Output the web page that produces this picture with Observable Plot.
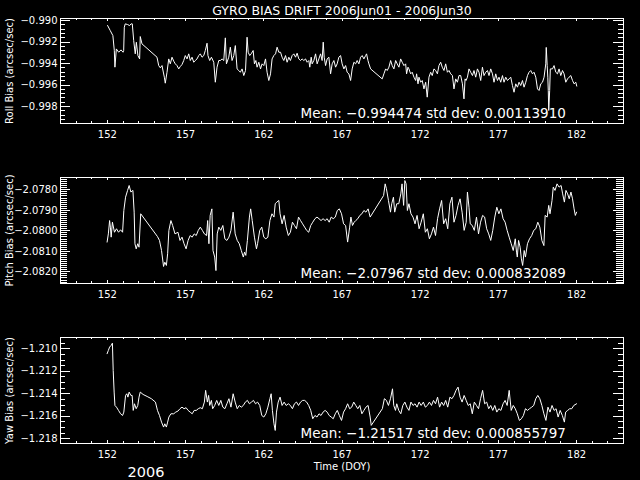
<!DOCTYPE html>
<html><head><meta charset="utf-8">
<script src="https://cdn.jsdelivr.net/npm/d3@7"></script>
<script src="https://cdn.jsdelivr.net/npm/@observablehq/plot@0.6"></script>
<style>
html,body{margin:0;padding:0;background:#000;}
#chart{position:relative;width:640px;height:480px;background:#000;overflow:hidden;}
#chart svg{position:absolute;left:0;}
</style></head><body><div id="chart"></div>
<script>
const titleText = "GYRO BIAS DRIFT 2006Jun01 - 2006Jun30";
const xLabelText = "Time (DOY)";
const yearText = "2006";
const xDomain = [149, 185];
const xTicks = [152, 157, 162, 167, 172, 177, 182];

const rollLabel = "Roll Bias (arcsec/sec)";
const pitchLabel = "Pitch Bias (arcsec/sec)";
const yawLabel = "Yaw Bias (arcsec/sec)";
const rollStats = "Mean: \u22120.994474 std dev: 0.00113910";
const pitchStats = "Mean: \u22122.07967 std dev: 0.000832089";
const yawStats = "Mean: \u22121.21517 std dev: 0.000855797";
const rollTicks = [-0.990, -0.992, -0.994, -0.996, -0.998];
const pitchTicks = [-2.0780, -2.0790, -2.0800, -2.0810, -2.0820];
const yawTicks = [-1.210, -1.212, -1.214, -1.216, -1.218];
const rollDomain = [-0.99958, -0.98981];
const pitchDomain = [-2.08257, -2.07740];
const yawDomain = [-1.21842, -1.20900];

const rollData = [[152.01,-0.99046],[152.18,-0.99093],[152.35,-0.99140],[152.44,-0.99279],[152.48,-0.99434],[152.57,-0.99264],[152.72,-0.99295],[152.87,-0.99273],[153.00,-0.99295],[153.04,-0.99279],[153.08,-0.99062],[153.14,-0.99031],[153.29,-0.99037],[153.42,-0.99047],[153.51,-0.99031],[153.59,-0.99031],[153.68,-0.99186],[153.78,-0.99310],[153.85,-0.99202],[153.95,-0.99326],[154.06,-0.99357],[154.10,-0.99149],[154.21,-0.99217],[155.17,-0.99341],[155.28,-0.99419],[155.38,-0.99440],[155.49,-0.99419],[155.64,-0.99527],[155.70,-0.99583],[155.81,-0.99481],[155.92,-0.99357],[156.02,-0.99403],[156.13,-0.99341],[156.24,-0.99378],[156.34,-0.99403],[156.45,-0.99419],[156.56,-0.99450],[156.66,-0.99428],[156.77,-0.99409],[156.88,-0.99372],[156.98,-0.99326],[157.09,-0.99357],[157.20,-0.99310],[157.30,-0.99372],[157.41,-0.99341],[157.52,-0.99388],[157.62,-0.99372],[157.73,-0.99357],[157.84,-0.99326],[157.94,-0.99310],[158.05,-0.99341],[158.16,-0.99326],[158.26,-0.99279],[158.37,-0.99211],[158.43,-0.99326],[158.54,-0.99372],[158.65,-0.99341],[158.80,-0.99388],[158.90,-0.99574],[159.01,-0.99434],[159.12,-0.99372],[159.22,-0.99372],[159.33,-0.99357],[159.44,-0.99372],[159.54,-0.99161],[159.61,-0.99403],[159.76,-0.99341],[159.86,-0.99248],[159.97,-0.99372],[160.08,-0.99326],[160.18,-0.99233],[160.29,-0.99450],[160.40,-0.99465],[160.50,-0.99481],[160.61,-0.99450],[160.72,-0.99512],[160.83,-0.99465],[160.93,-0.99155],[161.00,-0.99295],[161.10,-0.99326],[161.19,-0.99310],[161.32,-0.99279],[161.40,-0.99403],[161.49,-0.99372],[161.57,-0.99434],[161.68,-0.99388],[161.79,-0.99450],[161.89,-0.99403],[162.00,-0.99419],[162.11,-0.99357],[162.21,-0.99481],[162.32,-0.99558],[162.43,-0.99496],[162.53,-0.99357],[162.64,-0.99326],[162.75,-0.99310],[162.85,-0.99248],[162.96,-0.99295],
[163.07,-0.99295],[163.17,-0.99341],[163.28,-0.99372],[163.39,-0.99326],[163.49,-0.99388],[163.60,-0.99341],[163.70,-0.99372],[163.81,-0.99326],[163.92,-0.99310],[164.03,-0.99341],[164.13,-0.99304],[164.24,-0.99357],[164.35,-0.99372],[164.45,-0.99357],[164.56,-0.99372],[164.67,-0.99357],[164.77,-0.99388],[164.88,-0.99372],[164.94,-0.99434],[165.03,-0.99341],[165.09,-0.99403],[165.20,-0.99372],[165.31,-0.99310],[165.41,-0.99403],[165.52,-0.99357],[165.63,-0.99310],[165.73,-0.99372],[165.80,-0.99201],[165.86,-0.99341],[165.95,-0.99419],[166.05,-0.99357],[166.16,-0.99341],[166.27,-0.99496],[166.37,-0.99403],[166.48,-0.99372],[166.59,-0.99434],[166.69,-0.99403],[166.80,-0.99341],[166.91,-0.99326],[167.01,-0.99403],[167.12,-0.99450],[167.23,-0.99419],[167.33,-0.99481],[167.44,-0.99496],[167.55,-0.99558],[167.65,-0.99450],[167.76,-0.99388],[167.87,-0.99403],[167.97,-0.99372],[168.08,-0.99403],[168.19,-0.99341],[168.29,-0.99326],[168.40,-0.99357],[168.51,-0.99326],[168.57,-0.99310],[168.66,-0.99372],[168.72,-0.99403],[168.83,-0.99450],[169.57,-0.99543],[169.68,-0.99496],[169.79,-0.99450],[169.89,-0.99465],[170.00,-0.99434],[170.11,-0.99372],[170.21,-0.99419],[170.32,-0.99450],[170.43,-0.99372],[170.53,-0.99403],[170.64,-0.99434],[170.75,-0.99357],[170.85,-0.99388],[170.96,-0.99419],[171.07,-0.99403],[171.13,-0.99496],[171.22,-0.99434],[171.28,-0.99450],[171.39,-0.99496],[171.49,-0.99481],[171.60,-0.99527],[171.71,-0.99558],[171.77,-0.99496],[171.86,-0.99589],[171.92,-0.99527],[172.03,-0.99574],[172.13,-0.99558],[172.24,-0.99636],[172.35,-0.99574],[172.45,-0.99713],[172.56,-0.99527],[172.67,-0.99481],[172.77,-0.99512],[172.88,-0.99450],[172.99,-0.99465],[173.10,-0.99496],[173.20,-0.99419],[173.31,-0.99388],[173.41,-0.99434],[173.52,-0.99465],[173.63,-0.99403],[173.74,-0.99481],[173.84,-0.99465],[173.95,-0.99496],[174.06,-0.99512],[174.16,-0.99636],[174.27,-0.99543],[174.38,-0.99574],[174.48,-0.99512],[174.59,-0.99512],[174.70,-0.99589],[174.80,-0.99729],[174.87,-0.99543],[174.93,-0.99558],[175.02,-0.99527],[175.12,-0.99450],[175.23,-0.99481],[175.34,-0.99512],[175.44,-0.99465],[175.55,-0.99527],[175.66,-0.99450],[175.76,-0.99481],[175.87,-0.99558],[175.98,-0.99434],[176.08,-0.99512],[176.19,-0.99481],[176.30,-0.99465],[176.40,-0.99512],[176.51,-0.99450],[176.62,-0.99496],[176.72,-0.99574],[176.83,-0.99496],[176.94,-0.99558],[177.04,-0.99527],[177.15,-0.99574],[177.26,-0.99512],[177.36,-0.99574],[177.47,-0.99527],[177.58,-0.99558],[177.68,-0.99543],[177.79,-0.99527],[177.90,-0.99605],[178.00,-0.99667],[178.11,-0.99589],[178.22,-0.99620],[178.32,-0.99574],[178.43,-0.99605],[178.54,-0.99558],[178.64,-0.99620],[178.75,-0.99574],[178.86,-0.99512],[178.96,-0.99481],[179.07,-0.99465],[179.18,-0.99496],[179.28,-0.99481],[179.39,-0.99527],[179.50,-0.99636],[179.60,-0.99651],[179.71,-0.99589],[179.82,-0.99574],[179.92,-0.99527],[180.03,-0.99403],[180.06,-0.99250],[180.12,-0.99419],[180.16,-0.99527],[180.19,-0.99651],[180.22,-0.99837],[180.28,-0.99650],[180.32,-0.99450],[180.46,-0.99450],[180.56,-0.99419],[180.67,-0.99481],[180.78,-0.99496],[180.88,-0.99450],[180.99,-0.99512],[181.10,-0.99465],[181.20,-0.99496],[181.31,-0.99574],[181.42,-0.99543],[181.52,-0.99527],[181.63,-0.99512],[181.74,-0.99558],[181.84,-0.99589],[181.95,-0.99574],[182.01,-0.99610]];

const pitchData = [[151.98,-2.08055],[152.06,-2.08015],[152.14,-2.07950],[152.19,-2.07982],[152.24,-2.08031],[152.32,-2.07958],[152.45,-2.08007],[152.58,-2.07990],[152.71,-2.08007],[152.84,-2.07995],[152.97,-2.08007],[153.05,-2.07901],[153.16,-2.07836],[153.29,-2.07803],[153.39,-2.07779],[153.50,-2.07811],[153.63,-2.07803],[153.71,-2.07909],[153.76,-2.08063],[153.84,-2.08088],[153.94,-2.08063],[154.02,-2.08080],[154.13,-2.07917],[155.20,-2.08028],[155.33,-2.08047],[155.46,-2.08096],[155.59,-2.08174],[155.67,-2.08153],[155.77,-2.08169],[155.85,-2.08112],[155.93,-2.07998],[156.06,-2.07950],[156.17,-2.07974],[156.32,-2.08015],[156.51,-2.08007],[156.64,-2.08047],[156.77,-2.08031],[156.90,-2.08063],[157.03,-2.08088],[157.16,-2.08047],[157.29,-2.08023],[157.42,-2.08031],[157.55,-2.08015],[157.68,-2.08023],[157.81,-2.07998],[157.94,-2.07982],[158.07,-2.07998],[158.20,-2.08015],[158.34,-2.08023],[158.41,-2.07950],[158.49,-2.08063],[158.57,-2.07925],[158.68,-2.07893],[158.75,-2.08096],[158.86,-2.08128],[158.94,-2.08194],[159.02,-2.08015],[159.12,-2.07982],[159.25,-2.07998],[159.38,-2.07974],[159.51,-2.08039],[159.64,-2.08047],[159.77,-2.08031],[159.90,-2.07998],[160.04,-2.07909],[160.17,-2.08015],[160.30,-2.08047],[160.43,-2.08063],[160.56,-2.08096],[160.69,-2.08128],[160.77,-2.08104],[160.85,-2.08120],[160.95,-2.08047],[161.08,-2.07933],[161.16,-2.07893],[161.26,-2.07950],[161.40,-2.08031],[161.53,-2.08088],[161.60,-2.08063],[161.74,-2.07998],[161.87,-2.07982],[162.00,-2.08031],[162.13,-2.08039],[162.26,-2.08031],[162.39,-2.07950],[162.52,-2.07917],[162.65,-2.07933],[162.73,-2.07868],[162.83,-2.07860],[162.96,-2.07852],[163.04,-2.07917],[163.17,-2.07966],[163.30,-2.07925],[163.43,-2.07982],[163.57,-2.08023],[163.70,-2.08007],[163.83,-2.07958],[163.96,-2.07974],[164.09,-2.07990],[164.22,-2.07933],[164.35,-2.07950],[164.48,-2.07966],[164.61,-2.07982],[164.74,-2.07998],[164.87,-2.08007],[165.00,-2.07974],[165.13,-2.07958],[165.27,-2.07941],[165.40,-2.07933],[165.53,-2.07941],[165.66,-2.07950],[165.79,-2.07941],[165.92,-2.07950],[166.05,-2.07941],[166.18,-2.07958],[166.31,-2.07933],[166.44,-2.07941],[166.57,-2.07933],[166.70,-2.07901],[166.83,-2.07893],[166.97,-2.07917],[167.10,-2.07966],[167.23,-2.07974],[167.36,-2.08055],[167.49,-2.07982],[167.57,-2.07933],[167.67,-2.07974],[167.78,-2.07958],[167.88,-2.07950],[168.01,-2.07941],[168.14,-2.07925],[168.27,-2.07917],[168.40,-2.07901],[168.53,-2.07909],[168.67,-2.07893],[168.80,-2.07933],[169.66,-2.07828],[169.76,-2.07771],[169.84,-2.07795],[169.97,-2.07852],[170.10,-2.07909],[170.18,-2.07868],[170.29,-2.07836],[170.37,-2.07909],[170.50,-2.07868],[170.63,-2.07868],[170.76,-2.07820],[170.84,-2.07771],[170.94,-2.07876],[171.02,-2.07755],[171.10,-2.07771],[171.18,-2.07901],[171.28,-2.07868],[171.41,-2.07917],[171.54,-2.07933],[171.67,-2.07966],[171.80,-2.07925],[171.93,-2.07990],[172.06,-2.07958],[172.20,-2.07917],[172.33,-2.08007],[172.46,-2.07990],[172.59,-2.08039],[172.72,-2.08015],[172.85,-2.07982],[172.98,-2.08023],[173.11,-2.07941],[173.24,-2.07893],[173.37,-2.07852],[173.50,-2.07966],[173.63,-2.07941],[173.76,-2.07990],[173.90,-2.07868],[174.03,-2.07836],[174.16,-2.07958],[174.29,-2.07925],[174.42,-2.07876],[174.55,-2.07844],[174.68,-2.07909],[174.81,-2.07998],[174.94,-2.07958],[175.02,-2.07811],[175.12,-2.07885],[175.20,-2.07966],[175.33,-2.07974],[175.46,-2.07998],[175.60,-2.07933],[175.73,-2.08015],[175.86,-2.07958],[175.99,-2.07925],[176.12,-2.07933],[176.25,-2.07990],[176.38,-2.08015],[176.51,-2.08047],[176.64,-2.07998],[176.77,-2.07933],[176.90,-2.07885],[177.03,-2.07917],[177.16,-2.07893],[177.30,-2.07941],[177.43,-2.07958],[177.56,-2.07998],[177.69,-2.08031],[177.82,-2.08063],[177.95,-2.08096],[178.08,-2.08039],[178.16,-2.08104],[178.21,-2.08128],[178.29,-2.08047],[178.39,-2.08080],[178.47,-2.08137],[178.55,-2.08169],[178.65,-2.08096],[178.73,-2.08128],[178.86,-2.08063],[178.99,-2.08039],[179.13,-2.08023],[179.26,-2.07998],[179.39,-2.07990],[179.52,-2.07958],[179.65,-2.07982],[179.78,-2.08047],[179.91,-2.08072],[179.99,-2.07925],[180.12,-2.07933],[180.22,-2.07876],[180.30,-2.07917],[180.43,-2.07852],[180.51,-2.07787],[180.62,-2.07803],[180.75,-2.07771],[180.88,-2.07787],[181.01,-2.07779],[181.11,-2.07820],[181.22,-2.07860],[181.32,-2.07803],[181.43,-2.07820],[181.53,-2.07844],[181.64,-2.07811],[181.74,-2.07844],[181.84,-2.07893],[181.92,-2.07925],[182.00,-2.07909]];

const yawData = [[151.98,-1.21044],[152.06,-1.21015],[152.14,-1.20985],[152.24,-1.20970],[152.32,-1.20950],[152.37,-1.21193],[152.43,-1.21385],[152.48,-1.21504],[152.58,-1.21519],[152.71,-1.21548],[152.84,-1.21578],[152.97,-1.21593],[153.05,-1.21563],[153.16,-1.21415],[153.24,-1.21400],[153.31,-1.21430],[153.39,-1.21385],[153.50,-1.21415],[153.58,-1.21415],[153.65,-1.21548],[153.73,-1.21489],[153.84,-1.21533],[153.94,-1.21504],[154.02,-1.21430],[154.10,-1.21385],[154.28,-1.21406],[154.54,-1.21424],[154.81,-1.21444],[155.07,-1.21474],[155.20,-1.21548],[155.33,-1.21593],[155.46,-1.21652],[155.59,-1.21696],[155.67,-1.21667],[155.77,-1.21696],[155.85,-1.21652],[155.93,-1.21607],[156.06,-1.21578],[156.24,-1.21578],[156.37,-1.21563],[156.51,-1.21554],[156.64,-1.21533],[156.77,-1.21519],[156.90,-1.21533],[157.03,-1.21524],[157.16,-1.21548],[157.29,-1.21563],[157.42,-1.21578],[157.55,-1.21548],[157.68,-1.21548],[157.81,-1.21533],[157.94,-1.21524],[158.07,-1.21533],[158.20,-1.21474],[158.28,-1.21370],[158.39,-1.21474],[158.47,-1.21415],[158.54,-1.21504],[158.65,-1.21459],[158.73,-1.21533],[158.86,-1.21504],[158.99,-1.21459],[159.12,-1.21504],[159.25,-1.21459],[159.38,-1.21519],[159.51,-1.21533],[159.64,-1.21489],[159.77,-1.21444],[159.90,-1.21519],[160.04,-1.21400],[160.17,-1.21474],[160.30,-1.21533],[160.43,-1.21504],[160.56,-1.21519],[160.69,-1.21504],[160.82,-1.21474],[160.95,-1.21459],[161.08,-1.21489],[161.21,-1.21474],[161.34,-1.21459],[161.47,-1.21489],[161.60,-1.21474],[161.74,-1.21504],[161.87,-1.21593],[162.00,-1.21607],[162.13,-1.21578],[162.26,-1.21519],[162.39,-1.21444],[162.47,-1.21400],[162.55,-1.21548],[162.65,-1.21667],[162.73,-1.21726],[162.81,-1.21563],[162.92,-1.21474],[163.04,-1.21430],[163.17,-1.21504],[163.30,-1.21474],[163.43,-1.21504],[163.57,-1.21489],[163.70,-1.21504],[163.83,-1.21533],[163.96,-1.21489],[164.09,-1.21474],[164.22,-1.21504],[164.35,-1.21474],[164.48,-1.21459],[164.61,-1.21459],[164.74,-1.21474],[164.87,-1.21504],[165.00,-1.21548],[165.13,-1.21622],[165.27,-1.21593],[165.40,-1.21607],[165.53,-1.21578],[165.66,-1.21593],[165.79,-1.21563],[165.92,-1.21548],[166.05,-1.21563],[166.18,-1.21593],[166.31,-1.21607],[166.44,-1.21622],[166.57,-1.21578],[166.70,-1.21548],[166.83,-1.21593],[166.97,-1.21637],[167.10,-1.21563],[167.23,-1.21533],[167.36,-1.21489],[167.49,-1.21533],[167.62,-1.21519],[167.75,-1.21474],[167.88,-1.21504],[168.01,-1.21533],[168.14,-1.21504],[168.27,-1.21578],[168.40,-1.21548],[168.53,-1.21519],[168.67,-1.21504],[168.80,-1.21607],[168.87,-1.21681],[169.58,-1.21533],[169.71,-1.21444],[169.84,-1.21459],[169.97,-1.21504],[170.10,-1.21444],[170.23,-1.21356],[170.31,-1.21504],[170.42,-1.21548],[170.50,-1.21489],[170.63,-1.21548],[170.76,-1.21578],[170.89,-1.21504],[171.02,-1.21474],[171.15,-1.21519],[171.28,-1.21548],[171.41,-1.21474],[171.54,-1.21504],[171.67,-1.21489],[171.80,-1.21519],[171.93,-1.21474],[172.06,-1.21504],[172.20,-1.21474],[172.33,-1.21519],[172.46,-1.21504],[172.59,-1.21474],[172.72,-1.21504],[172.85,-1.21459],[172.98,-1.21489],[173.11,-1.21430],[173.24,-1.21519],[173.37,-1.21474],[173.50,-1.21504],[173.63,-1.21459],[173.76,-1.21519],[173.90,-1.21430],[174.03,-1.21444],[174.16,-1.21415],[174.29,-1.21370],[174.42,-1.21341],[174.55,-1.21430],[174.68,-1.21474],[174.81,-1.21415],[174.94,-1.21459],[175.07,-1.21504],[175.20,-1.21489],[175.33,-1.21578],[175.46,-1.21474],[175.60,-1.21504],[175.73,-1.21533],[175.86,-1.21444],[175.99,-1.21370],[176.12,-1.21489],[176.25,-1.21474],[176.38,-1.21533],[176.51,-1.21504],[176.64,-1.21548],[176.77,-1.21504],[176.90,-1.21563],[177.03,-1.21533],[177.16,-1.21548],[177.30,-1.21489],[177.43,-1.21459],[177.56,-1.21504],[177.69,-1.21370],[177.82,-1.21548],[177.95,-1.21504],[178.08,-1.21533],[178.21,-1.21578],[178.34,-1.21637],[178.47,-1.21622],[178.60,-1.21593],[178.73,-1.21533],[178.86,-1.21548],[178.99,-1.21533],[179.13,-1.21519],[179.26,-1.21504],[179.39,-1.21444],[179.52,-1.21415],[179.65,-1.21444],[179.78,-1.21504],[179.91,-1.21578],[180.04,-1.21637],[180.17,-1.21519],[180.30,-1.21563],[180.43,-1.21504],[180.56,-1.21548],[180.69,-1.21533],[180.82,-1.21607],[180.95,-1.21548],[181.09,-1.21593],[181.22,-1.21652],[181.30,-1.21563],[181.43,-1.21548],[181.56,-1.21533],[181.69,-1.21533],[181.82,-1.21504],[182.00,-1.21489]];

const FONT = "'DejaVu Sans', sans-serif";
const W = 640, ML = 60, MR = 17;

function panel(o) {
  const innerW = W - ML - MR;
  const innerH = o.height - o.mt - o.mb;
  const yMinor = d3.range(o.domain[0] - 1e-9, o.domain[1], o.minorStep)
    .map(v => Math.ceil(v / o.minorStep - 1e-6) * o.minorStep)
    .filter(v => v >= o.domain[0] && v <= o.domain[1]);
  const xMinor = d3.range(Math.ceil(xDomain[0]), xDomain[1] + 0.001, 1);
  const tickStyle = {stroke: "white", strokeWidth: 1, shapeRendering: "crispEdges"};
  const marks = [
    Plot.frame({stroke: "white", shapeRendering: "crispEdges"}),
    Plot.ruleY(yMinor, {y: d => d, ...tickStyle, insetRight: innerW - o.minorLen}),
    Plot.ruleY(yMinor, {y: d => d, ...tickStyle, insetLeft: innerW - o.minorLen}),
    Plot.ruleY(o.ticks, {y: d => d, ...tickStyle, insetRight: innerW - 10}),
    Plot.ruleY(o.ticks, {y: d => d, ...tickStyle, insetLeft: innerW - 10}),
    Plot.ruleX(xMinor, {x: d => d, ...tickStyle, insetTop: innerH - 2}),
    Plot.ruleX(xMinor, {x: d => d, ...tickStyle, insetBottom: innerH - 2}),
    Plot.ruleX(xTicks, {x: d => d, ...tickStyle, insetTop: innerH - 3}),
    Plot.ruleX(xTicks, {x: d => d, ...tickStyle, insetBottom: innerH - 3}),
    Plot.line(o.data, {x: d => d[0], y: d => d[1], stroke: "white", strokeWidth: 1}),
    Plot.text([o.label], {text: d => d, frameAnchor: "left", dx: -51, rotate: -90, textAnchor: "middle", lineAnchor: "middle", fill: "white", fontSize: 10}),
    Plot.text([o.stats], {text: d => d, frameAnchor: "bottom-left", dx: 240, dy: -6, textAnchor: "start", lineAnchor: "bottom", fill: "white", fontSize: 13.5}),
    ...(o.extra || [])
  ];
  const svg = Plot.plot({
    width: W, height: o.height,
    marginLeft: ML, marginRight: MR, marginTop: o.mt, marginBottom: o.mb,
    style: {background: "black", color: "white", fontFamily: FONT, fontSize: "10px"},
    x: {domain: xDomain, ticks: xTicks, tickSize: 0, tickPadding: 7, tickFormat: d => String(d), label: null},
    y: {domain: o.domain, ticks: o.ticks, tickSize: 0, tickPadding: 3, tickFormat: o.fmt, label: null},
    marks
  });
  svg.style.top = o.top + "px";
  document.getElementById("chart").appendChild(svg);
}

panel({
  data: rollData, top: 0, height: 150, mt: 18, mb: 27, domain: rollDomain, ticks: rollTicks,
  minorStep: 0.0004, minorLen: 5, fmt: d3.format(".3f"), label: rollLabel, stats: rollStats,
  extra: [Plot.text([titleText], {text: d => d, frameAnchor: "top", dy: -4, lineAnchor: "bottom", fill: "white", fontSize: 12.5})]
});
panel({
  data: pitchData, top: 160, height: 140, mt: 17, mb: 17, domain: pitchDomain, ticks: pitchTicks,
  minorStep: 0.0001, minorLen: 7, fmt: d3.format(".4f"), label: pitchLabel, stats: pitchStats
});
panel({
  data: yawData, top: 320, height: 160, mt: 17, mb: 37, domain: yawDomain, ticks: yawTicks,
  minorStep: 0.0005, minorLen: 5, fmt: d3.format(".3f"), label: yawLabel, stats: yawStats,
  extra: [
    Plot.text([xLabelText], {text: d => d, frameAnchor: "bottom", dy: 26, lineAnchor: "bottom", fill: "white", fontSize: 10}),
    Plot.text([yearText], {text: d => d, frameAnchor: "bottom-left", dx: 67, dy: 33.5, lineAnchor: "bottom", fill: "white", fontSize: 14.5})
  ]
});
</script></body></html>
